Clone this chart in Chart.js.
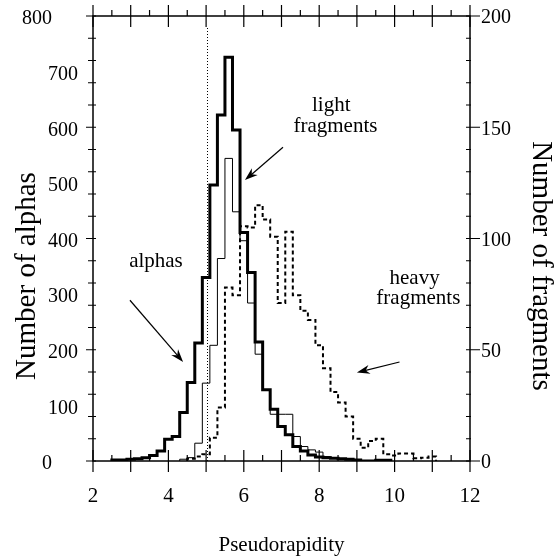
<!DOCTYPE html>
<html>
<head>
<meta charset="utf-8">
<script src="https://cdn.jsdelivr.net/npm/chart.js@4.4.0/dist/chart.umd.min.js"></script>
<style>
  html, body { margin: 0; padding: 0; background: #fff; }
  #wrap { width: 559px; height: 558px; }
</style>
</head>
<body>
<div id="wrap"><canvas id="etaChart" width="559" height="558"></canvas></div>
<script>
// histogram bin edges (0.2 wide) in pseudorapidity
const binEdges = [2.5, 2.7, 2.9, 3.1, 3.3, 3.5, 3.7, 3.9, 4.1, 4.3, 4.5, 4.7, 4.9, 5.1, 5.3,
  5.5, 5.7, 5.9, 6.1, 6.3, 6.5, 6.7, 6.9, 7.1, 7.3, 7.5, 7.7, 7.9, 8.1, 8.3, 8.5, 8.7, 8.9,
  9.1, 9.3, 9.5, 9.7, 9.9, 10.1, 10.3, 10.5, 10.7, 10.9, 11.1, 11.3];

// counts per bin (alphas on the left axis, fragments on the right axis)
const alphaCounts = [2, 2, 3, 4, 6, 10, 18, 39, 44, 87, 141, 212, 330, 496, 622, 726,
  595, 411, 339, 214, 128, 93, 62, 47, 26, 18, 11, 7, 6, 5, 4, 3, 2, 0, 0, 1.5, 1.5, 0,
  0, 0, 0, 0, 0, 0];
const lightCounts = [0, 0, 0, 0, 0, 0, 0, 0, 0, 0.8, 1.5, 8, 35, 52, 91, 136,
  112, 99, 71, 48, 32, 21, 21, 21, 11, 6.5, 5, 4, 2, 1.5, 1, 0.5, 0.5, 0, 0, 0, 0, 0,
  0, 0, 0, 0, 0, 0];
const heavyCounts = [0, 0, 0, 0, 0, 0, 0, 0, 0, 0, 1, 2, 3, 10.5, 24, 78,
  74.5, 105.5, 105, 115, 108.5, 100.8, 71, 103, 74.5, 67.5, 63.4, 52, 41.7, 31, 26.3, 20, 10, 6, 9, 10, 3, 2.5,
  3.4, 3.4, 1.2, 1.5, 2, 0];

const etaTicks = [2, 4, 6, 8, 10, 12];
const alphaTicks = [0, 100, 200, 300, 400, 500, 600, 700, 800];
const fragmentTicks = [0, 50, 100, 150, 200];
const etaCut = 5.03;

const SERIF = '"Liberation Serif", "Times New Roman", serif';

// step outline of one histogram, trimmed to its filled range
function histPoints(counts) {
  let first = counts.findIndex(c => c > 0);
  let last = counts.length - 1;
  while (last > first && counts[last] === 0) last--;
  const pts = [{ x: binEdges[first], y: 0 }];
  for (let i = first; i <= last; i++) pts.push({ x: binEdges[i], y: counts[i] });
  pts.push({ x: binEdges[last + 1], y: 0 });
  return pts;
}

function arrow(ctx, x1, y1, x2, y2) {
  const ang = Math.atan2(y2 - y1, x2 - x1);
  const len = 13, half = 4.5, notch = 9;
  ctx.beginPath();
  ctx.moveTo(x1, y1);
  ctx.lineTo(x2 - Math.cos(ang) * 6, y2 - Math.sin(ang) * 6);
  ctx.stroke();
  ctx.save();
  ctx.translate(x2, y2);
  ctx.rotate(ang);
  ctx.beginPath();
  ctx.moveTo(0, 0);
  ctx.lineTo(-len, -half);
  ctx.lineTo(-notch, 0);
  ctx.lineTo(-len, half);
  ctx.closePath();
  ctx.fill();
  ctx.restore();
}

// keep the plot box where it is: no extra room for overhanging labels
function fixBox(size) {
  return s => {
    if (s.isHorizontal()) s.height = size; else s.width = size;
    s.paddingTop = 0; s.paddingBottom = 0; s.paddingLeft = 0; s.paddingRight = 0;
  };
}

const frameAndNotes = {
  id: 'frameAndNotes',
  beforeDatasetsDraw(chart) {
    const { ctx, chartArea: a, scales: { x } } = chart;
    const px = Math.round(x.getPixelForValue(etaCut)) + 0.5;
    ctx.save();
    ctx.strokeStyle = '#000';
    ctx.lineWidth = 1;
    ctx.setLineDash([1, 2]);
    ctx.beginPath();
    ctx.moveTo(px, a.top + 12);
    ctx.lineTo(px, a.bottom);
    ctx.stroke();
    ctx.restore();
  },
  afterDatasetsDraw(chart) {
    const { ctx, chartArea: a, scales: { x, y, y2 } } = chart;
    ctx.save();
    ctx.strokeStyle = '#000';
    ctx.fillStyle = '#000';
    ctx.lineWidth = 1.5;
    ctx.strokeRect(a.left, a.top, a.right - a.left, a.bottom - a.top);

    // pseudorapidity ticks, top and bottom
    ctx.lineWidth = 1.2;
    ctx.beginPath();
    for (let v = 2; v <= 12.001; v += 0.5) {
      const px = x.getPixelForValue(v);
      const major = Math.abs(v - Math.round(v)) < 1e-6;
      if (major) {
        ctx.moveTo(px, a.bottom - 11); ctx.lineTo(px, a.bottom + 11);
        ctx.moveTo(px, a.top - 11); ctx.lineTo(px, a.top + 11);
      } else {
        ctx.moveTo(px, a.bottom - 6); ctx.lineTo(px, a.bottom);
        ctx.moveTo(px, a.top - 6); ctx.lineTo(px, a.top);
      }
    }
    // side ticks follow the fragment scale
    for (let v = 0; v <= 200; v += 10) {
      const py = y2.getPixelForValue(v);
      const major = v % 50 === 0;
      ctx.moveTo(a.left - (major ? 7 : 5), py); ctx.lineTo(a.left + 3, py);
      if (major) { ctx.moveTo(a.right - 4, py); ctx.lineTo(a.right + 10, py); }
      else { ctx.moveTo(a.right - 4, py); ctx.lineTo(a.right + 1, py); }
    }
    ctx.stroke();

    // alpha counts: inner column near the frame, the end values further out
    ctx.font = '20px ' + SERIF;
    ctx.textAlign = 'right';
    ctx.textBaseline = 'middle';
    alphaTicks.forEach(v => {
      const edge = v === 0 || v === 800;
      ctx.fillText(String(v), edge ? 52 : 78, y.getPixelForValue(v) + 3);
    });

    // axis titles on the sides
    ctx.font = '29px ' + SERIF;
    ctx.textAlign = 'center';
    ctx.save();
    ctx.translate(27, 276);
    ctx.rotate(-Math.PI / 2);
    ctx.fillText('Number of alphas', 0, 0);
    ctx.restore();
    ctx.save();
    ctx.translate(541, 266);
    ctx.rotate(Math.PI / 2);
    ctx.fillText('Number of fragments', 0, 0);
    ctx.restore();

    // labels and pointers
    ctx.font = '21px ' + SERIF;
    const at = (ex, ay) => [x.getPixelForValue(ex), y.getPixelForValue(ay)];
    const label = (t, ex, ay) => { const [px, py] = at(ex, ay); ctx.fillText(t, px, py); };
    label('light', 8.32, 640);
    label('fragments', 8.43, 602);
    label('alphas', 3.67, 358);
    label('heavy', 10.53, 329);
    label('fragments', 10.63, 293);

    ctx.lineWidth = 1.2;
    const pointer = (ex1, ay1, ex2, ay2) => {
      const [x1, y1] = at(ex1, ay1);
      const [x2, y2p] = at(ex2, ay2);
      arrow(ctx, x1, y1, x2, y2p);
    };
    pointer(7.04, 564, 6.03, 505);
    pointer(2.98, 289, 4.39, 178);
    pointer(10.13, 178, 9.0, 159);
    ctx.restore();
  }
};

const stepStyle = {
  stepped: true,
  pointRadius: 0,
  fill: false,
  borderColor: '#000',
  borderJoinStyle: 'miter',
  borderCapStyle: 'butt'
};

new Chart(document.getElementById('etaChart'), {
  type: 'line',
  data: {
    datasets: [
      { ...stepStyle, label: 'alphas', data: histPoints(alphaCounts), borderWidth: 3, yAxisID: 'y' },
      { ...stepStyle, label: 'light fragments', data: histPoints(lightCounts), borderWidth: 1, yAxisID: 'y2' },
      { ...stepStyle, label: 'heavy fragments', data: histPoints(heavyCounts), borderWidth: 2, borderDash: [4, 3], yAxisID: 'y2' }
    ]
  },
  options: {
    responsive: false,
    animation: false,
    devicePixelRatio: 1,
    layout: { padding: { top: 16, left: 0, right: 0, bottom: 0 } },
    plugins: { legend: { display: false }, tooltip: { enabled: false } },
    scales: {
      x: {
        type: 'linear',
        position: 'bottom',
        min: 2, max: 12,
        afterBuildTicks: s => { s.ticks = etaTicks.map(v => ({ value: v })); },
        afterFit: fixBox(97),
        grid: { display: false, drawTicks: false },
        border: { display: false },
        ticks: { color: '#000', padding: 23, font: { family: SERIF, size: 21 } },
        title: {
          display: true,
          text: 'Pseudorapidity',
          color: '#000',
          font: { family: SERIF, size: 21 },
          padding: { top: 0, bottom: 0 }
        }
      },
      y: {
        type: 'linear',
        position: 'left',
        min: 0, max: 800,
        afterBuildTicks: s => { s.ticks = alphaTicks.map(v => ({ value: v })); },
        afterFit: fixBox(93),
        grid: { display: false, drawTicks: false },
        border: { display: false },
        ticks: { display: false }
      },
      y2: {
        type: 'linear',
        position: 'right',
        min: 0, max: 200,
        afterBuildTicks: s => { s.ticks = fragmentTicks.map(v => ({ value: v })); },
        afterFit: fixBox(89),
        grid: { display: false, drawTicks: false },
        border: { display: false },
        ticks: { color: '#000', padding: 11, labelOffset: 2, font: { family: SERIF, size: 20 } }
      }
    }
  },
  plugins: [frameAndNotes]
});
</script>
</body>
</html>
